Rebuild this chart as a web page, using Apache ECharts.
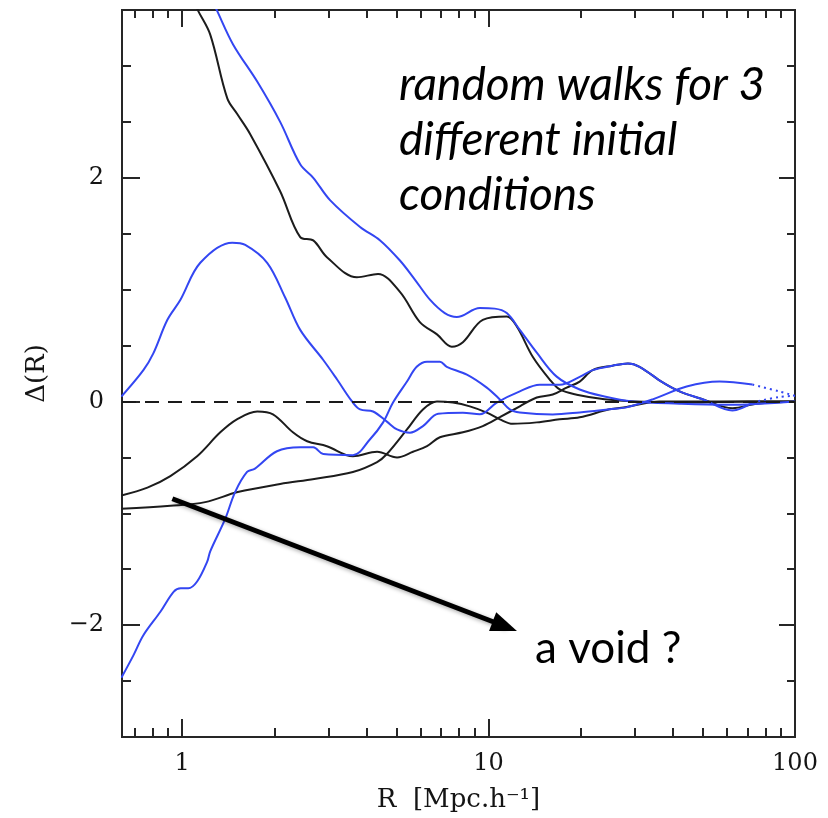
<!DOCTYPE html>
<html>
<head>
<meta charset="utf-8">
<script src="https://cdn.jsdelivr.net/npm/echarts@6/dist/echarts.min.js"></script>
<style>
  html, body { margin: 0; padding: 0; background: #ffffff; }
  #chart { width: 828px; height: 818px; }
</style>
</head>
<body>
<div id="chart"></div>
<script>
// Axis range and ticks
const R_MIN = 0.637;
const R_MAX = 100;
const xMajorTicks = [1, 10, 100];
const xMinorTicks = [0.7, 0.8, 0.9, 2, 3, 4, 5, 6, 7, 8, 9, 20, 30, 40, 50, 60, 70, 80, 90];
const yMajorTicks = [-2, 0, 2];
const yMinorTicks = [-2.5, -1.5, -1, -0.5, 0.5, 1, 1.5, 2.5, 3];

// Random walks Δ(R) versus smoothing scale R [Mpc/h]
const blackA = [
  [1.06, 3.65], [1.13, 3.49], [1.236, 3.28], [1.405, 2.71], [1.514, 2.57], [1.669, 2.39],
  [2.09, 1.88], [2.43, 1.47], [2.68, 1.44], [2.97, 1.29], [3.72, 1.11], [4.36, 1.14],
  [5.14, 0.98], [5.97, 0.71], [6.79, 0.6], [7.59, 0.49], [8.25, 0.53], [9.58, 0.73],
  [11.47, 0.76], [12.37, 0.67], [13.94, 0.40], [15.84, 0.196], [17.07, 0.107], [19.4, 0.06],
  [23.9, 0.02], [30, 0.0], [45, -0.01], [70, 0.0], [100, 0.0]
];
const blueA = [
  [1.236, 3.63], [1.303, 3.49], [1.469, 3.19], [1.759, 2.86], [2.09, 2.50], [2.43, 2.12],
  [2.68, 2.00], [3.04, 1.80], [3.81, 1.56], [4.43, 1.44], [5.14, 1.26], [5.75, 1.09],
  [6.44, 0.91], [7.2, 0.79], [7.88, 0.755], [9.37, 0.835], [10.48, 0.83], [11.47, 0.79],
  [12.65, 0.64], [14.37, 0.436], [16.69, 0.222], [19.84, 0.107], [23.9, 0.044], [29.5, 0.0],
  [42, -0.02], [60, -0.03], [100, 0.0]
];
const blackB = [
  [0.634, -0.84], [0.771, -0.77], [0.916, -0.667], [1.12, -0.49], [1.333, -0.276], [1.51, -0.16],
  [1.76, -0.09], [1.98, -0.115], [2.30, -0.276], [2.56, -0.356], [2.97, -0.40], [3.61, -0.49],
  [4.33, -0.45], [5.03, -0.5], [5.67, -0.45], [6.3, -0.40], [6.94, -0.32], [8.25, -0.276],
  [9.58, -0.22], [10.89, -0.14], [12.65, -0.044], [14.37, 0.036], [16.2, 0.062], [17.99, 0.124],
  [19.84, 0.178], [21.87, 0.28], [25.4, 0.32], [28.5, 0.34], [31.1, 0.31], [37.0, 0.17],
  [42.0, 0.09], [49.9, 0.02], [62.5, -0.06], [75, -0.02], [100, 0.0]
];
const blueB = [
  [0.634, 0.044], [0.748, 0.28], [0.806, 0.43], [0.896, 0.73], [0.987, 0.907], [1.147, 1.24],
  [1.458, 1.42], [1.608, 1.40], [1.896, 1.24], [2.17, 0.93], [2.43, 0.64], [2.886, 0.373],
  [3.206, 0.196], [3.587, 0.0], [3.81, -0.071], [4.20, -0.09], [4.66, -0.18], [5.03, -0.25],
  [5.54, -0.28], [6.11, -0.22], [6.85, -0.11], [8.25, -0.10], [9.37, -0.115], [10.64, -0.01],
  [12.65, 0.09], [14.69, 0.15], [17.07, 0.15], [19.84, 0.22], [21.87, 0.28], [25.4, 0.32],
  [28.5, 0.34], [31.1, 0.31], [37.0, 0.17], [42.0, 0.09], [49.9, 0.02], [62.5, -0.08],
  [72.6, -0.01]
];
const blueBTail = [[72.6, -0.01], [88.9, 0.04], [100, 0.05]];
const blackC = [
  [0.634, -0.96], [0.916, -0.933], [1.19, -0.90], [1.52, -0.81], [2.09, -0.738], [2.70, -0.693],
  [3.61, -0.631], [4.33, -0.542], [4.66, -0.47], [5.42, -0.25], [6.11, -0.071], [6.79, 0.0],
  [7.65, -0.01], [8.69, -0.044], [9.87, -0.10], [10.89, -0.16], [12.0, -0.20], [14.37, -0.187],
  [17.07, -0.16], [19.84, -0.142], [24.8, -0.07], [28.2, -0.05], [36.1, 0.0], [45, 0.0],
  [70, 0.0], [100, 0.0]
];
const blueC = [
  [0.634, -2.47], [0.694, -2.27], [0.748, -2.09], [0.85, -1.88], [0.94, -1.70], [0.99, -1.67],
  [1.048, -1.67], [1.12, -1.61], [1.209, -1.43], [1.236, -1.34], [1.383, -1.05], [1.49, -0.81],
  [1.63, -0.63], [1.73, -0.60], [2.04, -0.445], [2.43, -0.41], [2.68, -0.41], [2.89, -0.47],
  [3.61, -0.48], [4.10, -0.34], [4.53, -0.187], [4.88, -0.01], [5.42, 0.178], [5.83, 0.31],
  [6.30, 0.356], [6.94, 0.356], [7.31, 0.31], [8.5, 0.24], [9.87, 0.124], [10.89, 0.018],
  [11.73, -0.071], [12.65, -0.098], [16.2, -0.116], [19.84, -0.098], [24.8, -0.07], [28.2, -0.053],
  [34.3, 0.018], [44.3, 0.133], [56.7, 0.178], [72.6, 0.151]
];
const blueCTail = [[72.6, 0.151], [88.9, 0.09], [100, 0.05]];

// Arrow pointing at the deepest walk
const arrowFrom = [0.93, -0.87];
const arrowTo = [11.3, -2.01];

const INK = '#262626';
const LABEL_INK = '#141414';
const BLACK_LINE = '#1c1c1c';
const BLUE_LINE = '#3346f2';
const SERIF = "'DejaVu Serif', serif";

function xAxisDef(position, ticks, len, withLabels) {
  return {
    type: 'log', logBase: 10, min: R_MIN, max: R_MAX, position: position,
    name: withLabels ? 'R  [Mpc.h\u207B\u00B9]' : '',
    nameLocation: 'middle', nameGap: 50,
    nameTextStyle: { color: LABEL_INK, fontFamily: SERIF, fontSize: 26 },
    axisLine: { show: true, onZero: false, lineStyle: { color: INK, width: 2 } },
    axisTick: { show: true, inside: true, length: len, customValues: ticks, lineStyle: { color: INK, width: 2 } },
    axisLabel: withLabels ? {
      show: true, customValues: xMajorTicks, margin: 15,
      color: LABEL_INK, fontFamily: SERIF, fontSize: 24,
      formatter: v => String(Math.round(v))
    } : { show: false },
    splitLine: { show: false }, minorTick: { show: false }
  };
}
function yAxisDef(position, ticks, len, withLabels) {
  return {
    type: 'value', min: -3, max: 3.5, position: position,
    name: withLabels ? '\u0394(R)' : '',
    nameLocation: 'middle', nameGap: 72, nameRotate: 90,
    nameTextStyle: { color: LABEL_INK, fontFamily: SERIF, fontSize: 26 },
    axisLine: { show: true, onZero: false, lineStyle: { color: INK, width: 2 } },
    axisTick: { show: true, inside: true, length: len, customValues: ticks, lineStyle: { color: INK, width: 2 } },
    axisLabel: withLabels ? {
      show: true, customValues: yMajorTicks, margin: 18,
      color: LABEL_INK, fontFamily: SERIF, fontSize: 24,
      formatter: v => (v < 0 ? '\u2212' + Math.abs(v) : String(v))
    } : { show: false },
    splitLine: { show: false }, minorTick: { show: false }
  };
}

function walk(data, color, dotted) {
  return {
    type: 'line', data: data, xAxisIndex: 0, yAxisIndex: 0,
    showSymbol: false, symbol: 'none', smooth: 0.35, clip: true, silent: true,
    lineStyle: { color: color, width: 2, type: dotted ? [2, 4] : 'solid' },
    z: 3
  };
}

const chart = echarts.init(document.getElementById('chart'), null, { renderer: 'canvas' });
chart.setOption({
  animation: false,
  backgroundColor: '#ffffff',
  grid: { left: 122, right: 33, top: 10, bottom: 81, containLabel: false },
  xAxis: [
    xAxisDef('bottom', xMajorTicks, 18, true),
    xAxisDef('bottom', xMinorTicks, 9, false),
    xAxisDef('top', xMajorTicks, 17, false),
    xAxisDef('top', xMinorTicks, 8, false)
  ],
  yAxis: [
    yAxisDef('left', yMajorTicks, 18, true),
    yAxisDef('left', yMinorTicks, 9, false),
    yAxisDef('right', yMajorTicks, 16, false),
    yAxisDef('right', yMinorTicks, 8, false)
  ],
  series: [
    {
      type: 'line', data: [], xAxisIndex: 0, yAxisIndex: 0, silent: true,
      markLine: {
        silent: true, symbol: ['none', 'none'], label: { show: false },
        lineStyle: { color: '#1a1a1a', width: 2, type: [14, 9] },
        data: [{ yAxis: 0 }]
      }
    },
    walk(blackA, BLACK_LINE),
    walk(blackB, BLACK_LINE),
    walk(blackC, BLACK_LINE),
    walk(blueA, BLUE_LINE),
    walk(blueB, BLUE_LINE),
    walk(blueC, BLUE_LINE),
    walk(blueBTail, BLUE_LINE, true),
    walk(blueCTail, BLUE_LINE, true),
    {
      type: 'line', data: [], xAxisIndex: 0, yAxisIndex: 0, silent: true, z: 10,
      markLine: {
        silent: true, symbol: ['none', 'triangle'], symbolSize: [20, 26],
        label: { show: false },
        lineStyle: {
          color: '#000', width: 5, type: 'solid',
          shadowBlur: 4, shadowColor: 'rgba(0,0,0,0.35)', shadowOffsetX: 2, shadowOffsetY: 2
        },
        data: [[{ coord: arrowFrom }, { coord: arrowTo }]]
      }
    }
  ],
  graphic: [
    {
      type: 'text', left: 399, top: 58, silent: true,
      style: {
        text: 'random walks for 3\ndifferent initial\nconditions',
        font: "italic 46px Lato", lineHeight: 55, fill: '#000'
      }
    },
    {
      type: 'text', left: 535, top: 627, silent: true,
      style: { text: 'a void ?', font: "44px Lato", fill: '#000' }
    }
  ]
});
</script>
</body>
</html>
